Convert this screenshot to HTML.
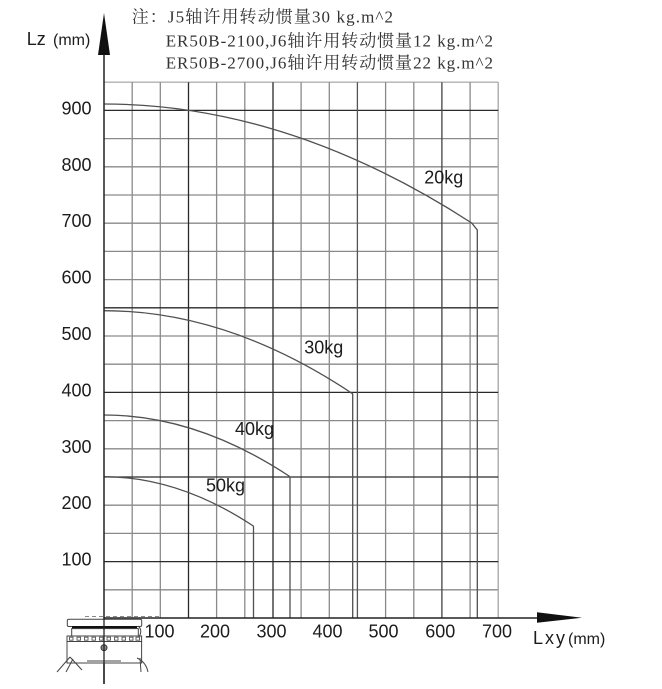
<!DOCTYPE html>
<html><head><meta charset="utf-8"><style>
html,body{margin:0;padding:0;background:#fff;}
svg{display:block;}
</style></head><body>
<svg width="662" height="689" viewBox="0 0 662 689" xmlns="http://www.w3.org/2000/svg">
<rect width="662" height="689" fill="#fff"/>
<!-- grid -->
<g stroke="#8a8a8a" stroke-width="1.3" fill="none">
<line x1="104" y1="82.2" x2="498.2" y2="82.2" stroke="#b0b0b0"/>
<line x1="104" y1="138.6" x2="498.2" y2="138.6"/>
<line x1="104" y1="166.8" x2="498.2" y2="166.8"/>
<line x1="104" y1="195" x2="498.2" y2="195"/>
<line x1="104" y1="223.2" x2="498.2" y2="223.2"/>
<line x1="104" y1="251.4" x2="498.2" y2="251.4"/>
<line x1="104" y1="279.6" x2="498.2" y2="279.6"/>
<line x1="104" y1="336" x2="498.2" y2="336"/>
<line x1="104" y1="364.2" x2="498.2" y2="364.2"/>
<line x1="104" y1="420.6" x2="498.2" y2="420.6"/>
<line x1="104" y1="448.8" x2="498.2" y2="448.8"/>
<line x1="104" y1="505.2" x2="498.2" y2="505.2"/>
<line x1="104" y1="533.4" x2="498.2" y2="533.4"/>
<line x1="104" y1="589.8" x2="498.2" y2="589.8"/>
<line x1="132.2" y1="82.2" x2="132.2" y2="618"/>
<line x1="160.3" y1="82.2" x2="160.3" y2="618"/>
<line x1="216.6" y1="82.2" x2="216.6" y2="618"/>
<line x1="244.8" y1="82.2" x2="244.8" y2="618"/>
<line x1="301.1" y1="82.2" x2="301.1" y2="618"/>
<line x1="329.3" y1="82.2" x2="329.3" y2="618"/>
<line x1="385.6" y1="82.2" x2="385.6" y2="618"/>
<line x1="413.8" y1="82.2" x2="413.8" y2="618"/>
<line x1="470.1" y1="82.2" x2="470.1" y2="618"/>
<line x1="498.2" y1="82.2" x2="498.2" y2="618" stroke="#a5a5a5"/>
</g>
<g stroke="#2a2a2a" stroke-width="1.3" fill="none">
<line x1="104" y1="110.4" x2="498.2" y2="110.4"/>
<line x1="104" y1="307.8" x2="498.2" y2="307.8"/>
<line x1="104" y1="392.4" x2="498.2" y2="392.4"/>
<line x1="104" y1="477" x2="498.2" y2="477"/>
<line x1="104" y1="561.6" x2="498.2" y2="561.6"/>
<line x1="188.5" y1="82.2" x2="188.5" y2="618"/>
<line x1="273" y1="82.2" x2="273" y2="618"/>
<line x1="357.4" y1="82.2" x2="357.4" y2="618" stroke="#555"/>
<line x1="441.9" y1="82.2" x2="441.9" y2="618" stroke="#444"/>
</g>
<!-- curves -->
<g stroke="#505050" stroke-width="1.3" fill="none">
<path d="M104,104 Q287.85,104 471.7,223 L477.3,230 L477.3,618"/>
<path d="M104,310.7 Q227,310.7 350,392 L352.7,394 L352.7,618"/>
<path d="M104,415 Q196.5,415 289,476 L290,477.5 L290,618"/>
<path d="M104,476.7 Q178.65,476.7 253.3,526 L253.5,527 L253.5,618"/>
</g>
<!-- axes -->
<g stroke="#222" stroke-width="1.5" fill="none">
<line x1="104" y1="50" x2="104" y2="684"/>
<line x1="104" y1="618" x2="540" y2="618"/>
</g>
<polygon points="104,13 98,55 110,55" fill="#111"/>
<polygon points="537,612.3 582,617.8 537,622.8" fill="#111"/>
<!-- y labels -->
<g font-family="Liberation Sans, sans-serif" font-size="18" fill="#1c1c1c" text-anchor="end">
<text x="91.5" y="114.5">900</text>
<text x="91.5" y="170.8">800</text>
<text x="91.5" y="227.2">700</text>
<text x="91.5" y="283.6">600</text>
<text x="91.5" y="340">500</text>
<text x="91.5" y="396.4">400</text>
<text x="91.5" y="452.8">300</text>
<text x="91.5" y="509.2">200</text>
<text x="91.5" y="565.6">100</text>
</g>
<!-- x labels -->
<g font-family="Liberation Sans, sans-serif" font-size="18" fill="#1c1c1c" text-anchor="middle">
<text x="159.5" y="637.5">100</text>
<text x="215" y="637.5">200</text>
<text x="271.5" y="637.5">300</text>
<text x="327.5" y="637.5">400</text>
<text x="383.5" y="637.5">500</text>
<text x="440.3" y="637.5">600</text>
<text x="497" y="637.5">700</text>
</g>
<!-- series labels -->
<g font-family="Liberation Sans, sans-serif" font-size="18" fill="#1c1c1c">
<text x="424.3" y="183.3" textLength="39">20kg</text>
<text x="304.3" y="353.3" textLength="39">30kg</text>
<text x="235" y="435" textLength="39">40kg</text>
<text x="206" y="491.7" textLength="39">50kg</text>
</g>
<!-- axis titles -->
<g fill="#1c1c1c" font-family="Liberation Sans, sans-serif">
<text x="26.7" y="45" font-size="18">Lz</text>
<text x="53" y="45" font-size="16">(mm)</text>
<text x="533" y="644" font-size="18" textLength="32">Lxy</text>
<text x="568" y="644" font-size="16">(mm)</text>
</g>
<!-- notes -->
<g font-family="Liberation Serif, 'Noto Serif CJK SC', serif" font-size="17" fill="#333">
<text x="131.7" y="22.7" textLength="261.3">注：J5轴许用转动惯量30 kg.m^2</text>
<text x="165.7" y="46.5" textLength="327.3">ER50B-2100,J6轴许用转动惯量12 kg.m^2</text>
<text x="165.7" y="68.5" textLength="327.3">ER50B-2700,J6轴许用转动惯量22 kg.m^2</text>
</g>
<!-- robot flange drawing -->
<g stroke="#444" stroke-width="1" fill="#fff">
<line x1="85" y1="616.5" x2="160" y2="616.5" stroke="#888" stroke-dasharray="4,3"/>
<rect x="67.3" y="619.3" width="74.4" height="7.2" rx="1.5"/>
<rect x="72" y="626" width="65" height="2.6" fill="#111" stroke="none"/>
<rect x="71.7" y="628.6" width="66.6" height="7.4"/>
<rect x="67" y="636" width="74.6" height="5.5"/>
<rect x="67" y="641.5" width="74.6" height="21.5"/>
<line x1="67" y1="663" x2="141.6" y2="663"/>
</g>
<g fill="#fff" stroke="#555" stroke-width="0.9">
<rect x="69.5" y="637.2" width="3.5" height="3"/>
<rect x="77" y="637.2" width="3.5" height="3"/>
<rect x="84.5" y="637.2" width="3.5" height="3"/>
<rect x="92" y="637.2" width="3.5" height="3"/>
<rect x="99.5" y="637.2" width="3.5" height="3"/>
<rect x="107" y="637.2" width="3.5" height="3"/>
<rect x="114.5" y="637.2" width="3.5" height="3"/>
<rect x="122" y="637.2" width="3.5" height="3"/>
<rect x="129.5" y="637.2" width="3.5" height="3"/>
<rect x="136" y="637.2" width="3.5" height="3"/>
</g>
<circle cx="104" cy="647.7" r="3" fill="#888" stroke="#333" stroke-width="1"/>
<g stroke="#444" stroke-width="1" fill="none">
<line x1="87" y1="661" x2="121" y2="661"/>
<line x1="70" y1="657" x2="57" y2="672"/>
<line x1="70" y1="657" x2="82" y2="670"/>
<line x1="73" y1="659" x2="66" y2="672"/>
<path d="M137,658 Q146,662 148,672"/>
<path d="M140,658 L141,672"/>
<path d="M138,626 Q143,630 139,637"/>
</g>
<line x1="104" y1="618" x2="104" y2="684" stroke="#222" stroke-width="1.3"/>
</svg>
</body></html>
